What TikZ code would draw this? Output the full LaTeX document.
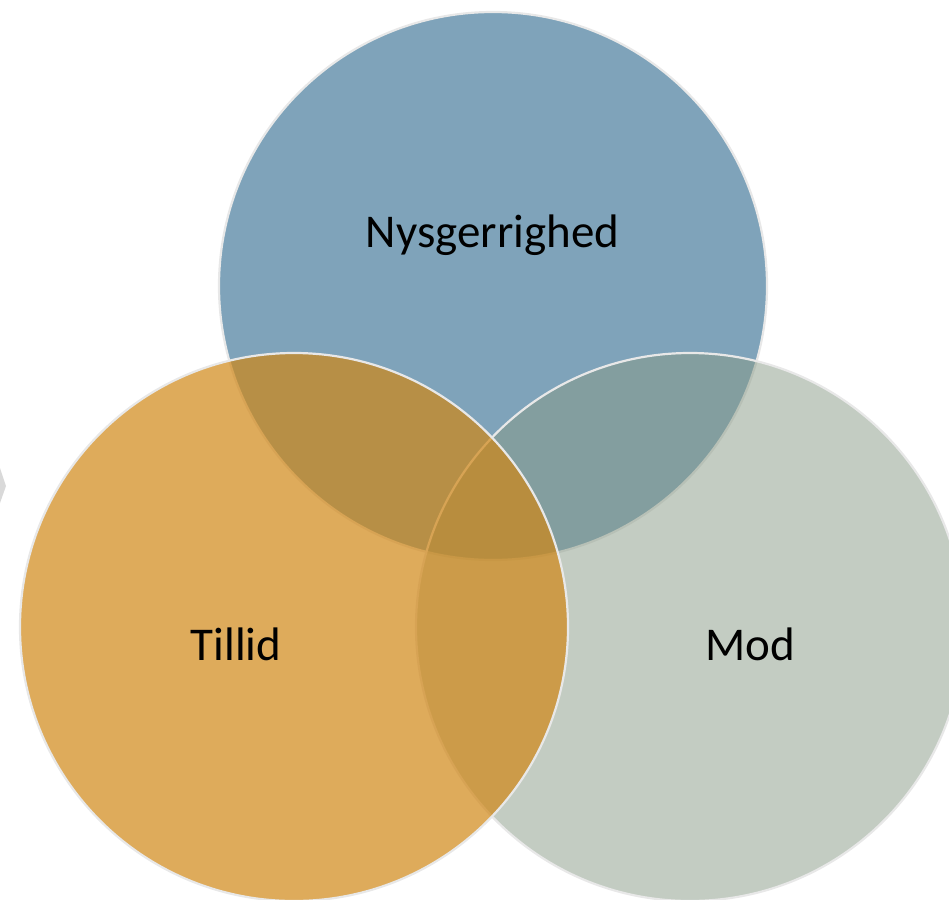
\documentclass[tikz,border=0pt]{standalone}
\usepackage{fontspec}
\setmainfont{Carlito}
\definecolor{nysblue}{RGB}{72,124,156}
\definecolor{tilorange}{RGB}{208,135,22}
\definecolor{modgray}{RGB}{135,153,133}
\definecolor{rimgray}{RGB}{232,232,232}
\definecolor{chevgray}{RGB}{217,217,217}
\tikzset{
  venn/.style={circle, minimum size=548pt, inner sep=0pt, draw=rimgray, line width=2.2pt, fill opacity=0.7, draw opacity=1},
  vlabel/.style={anchor=base, inner sep=0pt, font=\fontsize{47}{56}\selectfont, text=black}
}
\begin{document}
\begin{tikzpicture}[x=1pt,y=-1pt]
\useasboundingbox (0,0) rectangle (949,899);
\clip (0,0) rectangle (949,899);
\fill[chevgray] (0,468) -- (6,486) -- (0,503) -- cycle;
\node[venn, fill=nysblue] (nys) at (493,286) {};
\node[venn, fill=modgray, fill opacity=0.5] (mod) at (690,627) {};
\node[venn, fill=tilorange] (til) at (294,627) {};
\node[vlabel] (tnys) at (492.5,247) {Nysgerrighed};
\node[vlabel] (ttil) at (236,660) {Tillid};
\node[vlabel] (tmod) at (750,660) {Mod};
\end{tikzpicture}
\end{document}
